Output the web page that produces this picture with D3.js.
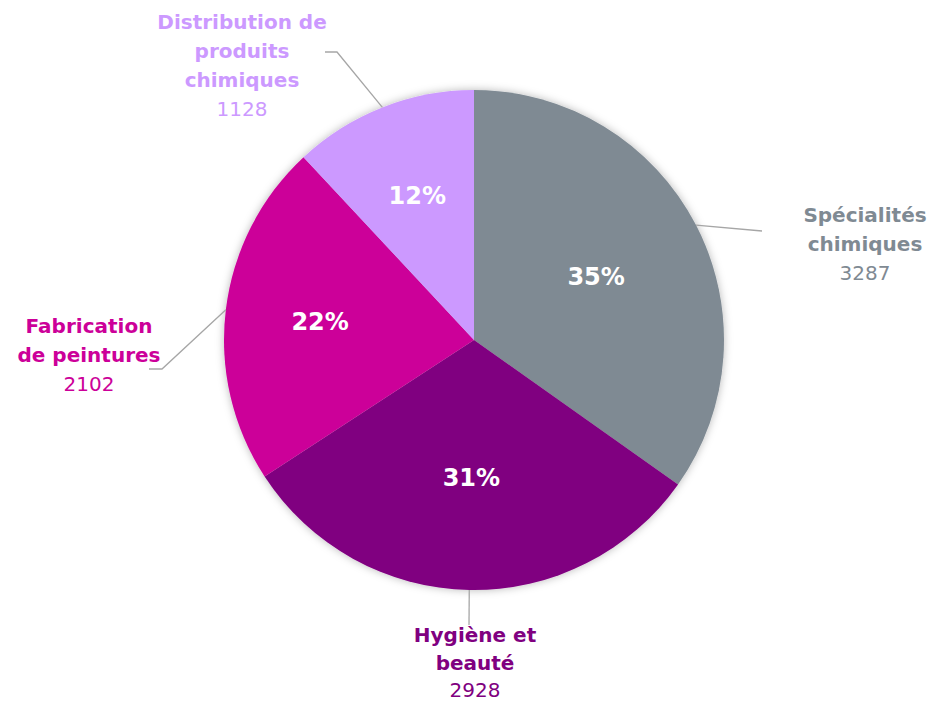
<!DOCTYPE html>
<html>
<head>
<meta charset="utf-8">
<script src="https://cdnjs.cloudflare.com/ajax/libs/d3/7.8.5/d3.min.js"></script>
<style>
  html, body { margin: 0; padding: 0; background: #ffffff; }
  svg { display: block; }
</style>
</head>
<body>
<div id="chart"></div>
<script>
// ---- data ----
const categories = ["Spécialités chimiques", "Hygiène et beauté", "Fabrication de peintures", "Distribution de produits chimiques"];
const labelLines = [["Spécialités", "chimiques"], ["Hygiène et", "beauté"], ["Fabrication", "de peintures"], ["Distribution de", "produits", "chimiques"]];
const values = [3287, 2928, 2102, 1128];
const colors = ["#7f8a93", "#800080", "#cc0099", "#cc99ff"];

// ---- layout ----
const W = 930, H = 705;
const cx = 474, cy = 340, R = 250;
const fontFamily = "'DejaVu Sans', 'Noto Sans', sans-serif";
const pctRadius = [0.55, 0.55, 0.62, 0.62];
// label block placement (center x, first-line baseline y, line step) and leader-line end points
const labelLayout = [
  { x: 865, y: 222, step: 29, line: [[762, 231]] },
  { x: 475, y: 642, step: 27.5, line: [[469, 625]] },
  { x: 89,  y: 333, step: 29, line: [[162, 369], [149, 369]] },
  { x: 242, y: 29,  step: 29, line: [[337, 52], [325, 52]] }
];

const svg = d3.select("#chart").append("svg").attr("width", W).attr("height", H);

const defs = svg.append("defs");
const f = defs.append("filter").attr("id", "shadow").attr("x", "-20%").attr("y", "-20%").attr("width", "140%").attr("height", "140%");
f.append("feGaussianBlur").attr("in", "SourceAlpha").attr("stdDeviation", 4).attr("result", "blur");
f.append("feFlood").attr("flood-color", "#000").attr("flood-opacity", 0.28).attr("result", "c");
f.append("feComposite").attr("in", "c").attr("in2", "blur").attr("operator", "in").attr("result", "sh");
const m = f.append("feMerge");
m.append("feMergeNode").attr("in", "sh");
m.append("feMergeNode").attr("in", "SourceGraphic");

const total = d3.sum(values);
const pie = d3.pie().sort(null).value(d => d)(values);
const arc = d3.arc().innerRadius(0).outerRadius(R);
const edgeArc = d3.arc().innerRadius(R).outerRadius(R);
const pctPos = (d, i) => d3.arc().innerRadius(R * pctRadius[i]).outerRadius(R * pctRadius[i]).centroid(d);

const g = svg.append("g").attr("transform", `translate(${cx},${cy})`);

g.append("g").attr("filter", "url(#shadow)")
  .selectAll("path").data(pie).join("path")
  .attr("d", arc)
  .attr("fill", (d, i) => colors[i]);

// percentage labels
g.selectAll("text.pct").data(pie).join("text")
  .attr("class", "pct")
  .attr("x", (d, i) => pctPos(d, i)[0])
  .attr("y", (d, i) => pctPos(d, i)[1])
  .attr("dy", "0.35em")
  .attr("text-anchor", "middle")
  .attr("fill", "#ffffff")
  .attr("font-family", fontFamily)
  .attr("font-weight", "bold")
  .attr("font-size", 24)
  .text(d => Math.round(d.value / total * 100) + "%");

// leader lines
svg.selectAll("polyline.leader").data(pie).join("polyline")
  .attr("class", "leader")
  .attr("points", (d, i) => {
    const c = edgeArc.centroid(d);
    const pts = [[c[0] + cx, c[1] + cy]].concat(labelLayout[i].line);
    return pts.map(p => p.join(",")).join(" ");
  })
  .attr("fill", "none")
  .attr("stroke", "#a6a6a6")
  .attr("stroke-width", 1.3);

// outside category labels
const lab = svg.selectAll("g.lab").data(pie).join("g").attr("class", "lab");
lab.each(function(d, i) {
  const L = labelLayout[i];
  const t = d3.select(this).append("text")
    .attr("text-anchor", "middle")
    .attr("fill", colors[i])
    .attr("font-family", fontFamily);
  labelLines[i].forEach((s, k) => {
    t.append("tspan").attr("x", L.x).attr("y", L.y + k * L.step)
      .attr("font-weight", "bold").attr("font-size", 20).text(s);
  });
  t.append("tspan").attr("x", L.x).attr("y", L.y + labelLines[i].length * L.step)
    .attr("font-size", 20).text(values[i]);
});
</script>
</body>
</html>
